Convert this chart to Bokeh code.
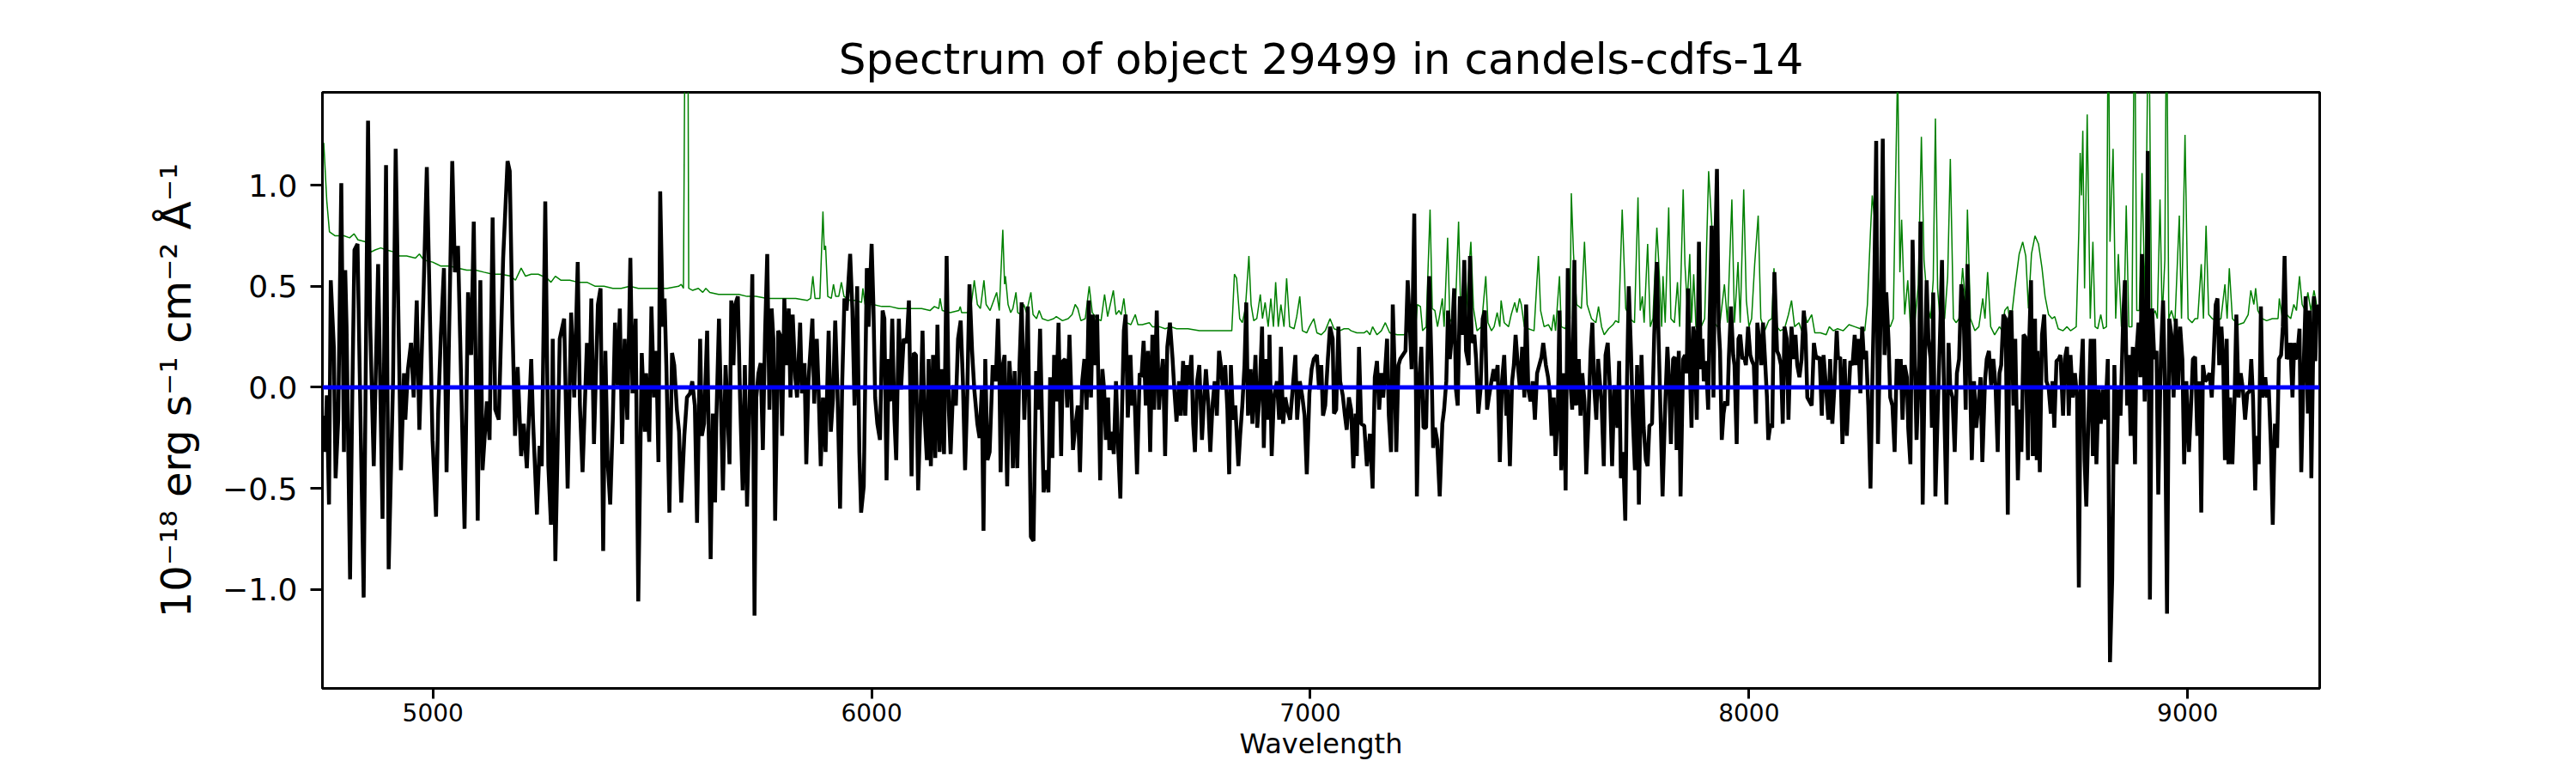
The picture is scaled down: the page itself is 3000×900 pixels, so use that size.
from bokeh.plotting import figure
from bokeh.models import Range1d, FixedTicker, CustomJSTickFormatter, Span, ColumnDataSource
from bokeh.embed import file_html
from bokeh.resources import INLINE

TITLE = "Spectrum of object 29499 in candels-cdfs-14"
X_LABEL = "Wavelength"
Y_LABEL = "10⁻¹⁸ erg s⁻¹ cm⁻² Å⁻¹"
X_TICKS = [5000, 6000, 7000, 8000, 9000]
Y_TICKS = [-1.0, -0.5, 0.0, 0.5, 1.0]
X_LIMITS = (4748, 9301)
Y_LIMITS = (-1.49, 1.46)
ZERO_LEVEL = 0.0

FLUX_4750_5520 = [
    (4750, -0.14), (4754, -0.32), (4758, -0.04), (4763, -0.58), (4767, 0.53), (4774, 0.20), (4778, -0.45),
    (4784, -0.16), (4791, 1.01), (4797, -0.32), (4800, 0.58), (4803, 0.30), (4811, -0.95), (4816, -0.05),
    (4821, 0.68), (4828, 0.71), (4833, 0.07), (4842, -1.04), (4852, 1.32), (4857, 0.30), (4865, -0.39),
    (4875, 0.61), (4885, -0.65), (4893, 1.10), (4899, -0.90), (4909, 0.03), (4915, 1.18), (4921, 0.38),
    (4927, -0.41), (4934, 0.07), (4937, -0.16), (4943, 0.09), (4950, 0.22), (4956, -0.05), (4963, 0.43),
    (4969, -0.21), (4974, 0.14), (4979, 0.51), (4986, 1.09), (4994, 0.26), (4999, -0.26), (5007, -0.64),
    (5012, -0.11), (5018, 0.26), (5025, 0.59), (5031, -0.42), (5037, 0.30), (5044, 1.12), (5050, 0.57),
    (5057, 0.70), (5062, 0.24), (5072, -0.70), (5080, 0.47), (5087, 0.16), (5093, 0.82), (5102, -0.66),
    (5108, 0.53), (5113, -0.41), (5123, -0.07), (5129, -0.26), (5136, 0.84), (5142, -0.11), (5150, -0.16),
    (5160, 0.64), (5170, 1.12), (5175, 1.07), (5181, 0.34), (5187, -0.24), (5193, 0.10), (5201, -0.34),
    (5207, -0.18), (5214, -0.40), (5224, 0.14), (5228, -0.16), (5237, -0.63), (5243, -0.29), (5248, -0.39),
    (5256, 0.92), (5263, -0.39), (5269, -0.68), (5273, 0.24), (5279, -0.86), (5289, 0.24), (5299, 0.34),
    (5307, -0.50), (5315, 0.37), (5322, -0.05), (5330, 0.62), (5335, -0.09), (5341, -0.42), (5351, 0.22),
    (5357, -0.01), (5361, 0.44), (5367, -0.28), (5376, 0.41), (5382, 0.49), (5388, -0.81), (5393, 0.18),
    (5398, -0.36), (5404, -0.58), (5410, -0.16), (5415, 0.32), (5421, 0.01), (5426, 0.39), (5431, -0.28),
    (5437, 0.24), (5443, -0.16), (5450, 0.64), (5455, -0.03), (5462, 0.34), (5468, -1.06), (5476, 0.17),
    (5483, -0.22), (5486, 0.07), (5493, -0.27), (5498, 0.40), (5504, -0.05), (5509, 0.18), (5514, -0.37),
    (5518, 0.97),
]
FLUX_5520_6280 = [
    (5524, 0.30), (5528, 0.44), (5532, 0.11), (5539, -0.62), (5545, 0.17), (5550, 0.11), (5556, -0.11),
    (5561, -0.22), (5566, -0.57), (5573, -0.24), (5579, -0.05), (5586, -0.03), (5591, 0.03), (5597, -0.09),
    (5602, -0.67), (5609, 0.24), (5613, -0.24), (5618, -0.18), (5625, 0.28), (5633, -0.85), (5638, -0.13),
    (5643, -0.57), (5646, -0.16), (5652, 0.34), (5661, -0.51), (5667, 0.11), (5672, -0.14), (5676, -0.38),
    (5680, 0.43), (5685, 0.11), (5689, 0.41), (5695, 0.45), (5700, -0.05), (5706, -0.51), (5711, 0.11),
    (5716, -0.59), (5723, 0.03), (5728, 0.56), (5733, -1.13), (5737, -0.05), (5742, 0.07), (5747, 0.12),
    (5752, -0.31), (5757, 0.26), (5762, 0.66), (5767, -0.11), (5772, 0.39), (5776, 0.24), (5780, -0.66),
    (5787, 0.28), (5791, 0.26), (5796, -0.24), (5801, 0.44), (5805, 0.11), (5811, 0.39), (5815, -0.05),
    (5820, 0.36), (5826, 0.05), (5830, -0.05), (5837, 0.32), (5841, -0.03), (5847, 0.12), (5851, -0.38),
    (5856, 0.03), (5865, 0.34), (5869, -0.08), (5875, 0.24), (5879, -0.01), (5884, -0.39), (5889, -0.05),
    (5895, -0.32), (5902, 0.28), (5907, -0.22), (5912, -0.05), (5917, 0.33), (5922, -0.01), (5928, -0.60),
    (5933, 0.03), (5938, 0.44), (5943, 0.38), (5951, 0.66), (5956, 0.39), (5961, -0.09), (5967, 0.50),
    (5972, -0.32), (5976, -0.62), (5982, -0.49), (5989, 0.59), (5993, 0.30), (6000, 0.71), (6004, 0.41),
    (6008, -0.05), (6013, -0.18), (6019, -0.26), (6025, 0.38), (6029, 0.34), (6034, -0.46), (6039, 0.14),
    (6042, -0.07), (6047, 0.34), (6052, -0.16), (6056, -0.36), (6062, 0.34), (6067, -0.01), (6073, 0.24),
    (6080, 0.22), (6085, 0.43), (6091, -0.44), (6096, 0.17), (6101, 0.16), (6106, -0.51), (6111, -0.14),
    (6116, 0.28), (6120, -0.11), (6126, -0.36), (6130, 0.14), (6135, -0.39), (6140, 0.16), (6145, -0.35),
    (6150, 0.31), (6155, -0.32), (6160, 0.09), (6165, -0.33), (6171, 0.65), (6176, -0.11), (6180, -0.33),
    (6186, 0.01), (6192, -0.09), (6197, 0.24), (6203, 0.33), (6208, 0.03), (6213, -0.41), (6218, -0.03),
    (6223, 0.51), (6229, 0.18), (6234, -0.01), (6241, -0.18), (6246, -0.25), (6251, -0.01), (6255, -0.71),
    (6259, 0.14), (6264, -0.36), (6269, -0.32), (6276, 0.11),
]
FLUX_6280_7050 = [
    (6283, 0.03), (6288, 0.34), (6291, 0.11), (6294, -0.42), (6299, 0.11), (6303, 0.16), (6309, -0.49),
    (6314, 0.13), (6317, 0.03), (6322, -0.40), (6326, 0.08), (6332, -0.40), (6337, 0.11), (6342, 0.42),
    (6348, -0.16), (6352, 0.09), (6356, 0.40), (6363, -0.74), (6369, -0.76), (6375, 0.08), (6379, -0.11),
    (6384, 0.29), (6392, -0.52), (6399, -0.41), (6403, -0.52), (6407, 0.05), (6412, -0.35), (6416, 0.16),
    (6421, -0.07), (6426, 0.32), (6432, -0.34), (6436, 0.13), (6441, 0.14), (6446, -0.10), (6451, 0.26),
    (6459, -0.31), (6464, -0.20), (6470, -0.09), (6475, -0.42), (6480, 0.03), (6485, 0.14), (6490, -0.11),
    (6495, 0.43), (6500, -0.05), (6504, 0.36), (6508, 0.11), (6514, 0.36), (6521, -0.46), (6526, 0.09),
    (6530, -0.01), (6534, -0.26), (6539, -0.05), (6542, -0.31), (6547, -0.22), (6552, -0.33), (6557, 0.03),
    (6562, -0.30), (6567, -0.55), (6571, -0.09), (6575, 0.28), (6579, 0.36), (6584, -0.15), (6590, 0.16),
    (6594, -0.09), (6599, -0.01), (6605, -0.43), (6611, 0.07), (6615, 0.05), (6620, 0.23), (6625, -0.09),
    (6630, 0.18), (6635, -0.32), (6640, 0.26), (6644, -0.11), (6650, 0.38), (6655, -0.11), (6659, 0.03),
    (6664, 0.14), (6669, -0.34), (6674, 0.20), (6680, 0.32), (6686, 0.14), (6690, -0.01), (6695, -0.17),
    (6701, 0.03), (6705, -0.14), (6710, 0.13), (6715, -0.14), (6719, 0.11), (6723, 0.01), (6729, 0.16),
    (6733, -0.18), (6737, -0.32), (6742, 0.03), (6747, 0.11), (6753, -0.26), (6757, -0.09), (6762, 0.09),
    (6767, -0.07), (6772, -0.32), (6777, -0.09), (6782, 0.03), (6787, -0.14), (6792, 0.18), (6796, 0.11),
    (6801, -0.01), (6806, 0.11), (6811, -0.11), (6815, -0.43), (6819, 0.11), (6824, -0.16), (6829, -0.09),
    (6836, -0.39), (6840, -0.24), (6845, -0.09), (6850, 0.11), (6854, 0.42), (6858, -0.14), (6864, 0.09),
    (6868, -0.18), (6875, 0.16), (6879, -0.20), (6884, -0.05), (6890, 0.30), (6894, -0.30), (6899, 0.14),
    (6904, -0.16), (6907, 0.26), (6912, -0.34), (6917, -0.05), (6924, 0.03), (6929, -0.16), (6933, 0.20),
    (6938, -0.18), (6943, -0.05), (6948, -0.11), (6954, -0.16), (6959, -0.03), (6966, 0.16), (6970, -0.16),
    (6976, 0.03), (6982, -0.05), (6987, -0.14), (6992, -0.43), (6998, -0.03), (7003, 0.09), (7008, 0.14),
    (7015, 0.16), (7020, -0.01), (7025, 0.11), (7029, -0.14), (7034, -0.09), (7040, 0.14), (7045, 0.30),
]
FLUX_7050_7810 = [
    (7051, 0.24), (7054, -0.13), (7059, -0.11), (7064, 0.30), (7068, 0.03), (7074, -0.04), (7079, -0.14),
    (7083, -0.21), (7088, -0.05), (7093, -0.11), (7098, -0.40), (7103, -0.13), (7106, -0.34), (7111, 0.20),
    (7116, -0.18), (7123, -0.19), (7129, -0.39), (7136, -0.23), (7142, -0.50), (7147, 0.05), (7152, 0.13),
    (7157, -0.11), (7162, 0.07), (7166, -0.05), (7170, 0.06), (7175, 0.24), (7179, -0.14), (7184, -0.32),
    (7188, 0.41), (7192, 0.11), (7196, -0.32), (7201, 0.11), (7205, 0.14), (7211, 0.16), (7217, 0.18),
    (7222, 0.53), (7227, 0.30), (7231, 0.09), (7237, 0.86), (7243, -0.54), (7248, 0.03), (7253, 0.20),
    (7258, -0.20), (7264, -0.20), (7271, 0.55), (7276, 0.14), (7280, -0.30), (7284, -0.20), (7289, -0.26),
    (7295, -0.54), (7301, -0.18), (7305, -0.11), (7310, 0.03), (7314, 0.38), (7318, 0.14), (7323, 0.26),
    (7328, 0.49), (7332, -0.01), (7336, -0.09), (7341, 0.45), (7346, 0.26), (7351, 0.63), (7355, 0.18),
    (7361, 0.11), (7364, 0.65), (7368, 0.22), (7374, 0.26), (7378, 0.14), (7383, -0.13), (7388, -0.01),
    (7393, 0.34), (7398, 0.38), (7403, -0.11), (7407, -0.05), (7413, 0.03), (7418, 0.09), (7422, 0.03),
    (7427, 0.11), (7432, -0.37), (7437, 0.03), (7442, 0.16), (7447, -0.14), (7450, -0.01), (7455, -0.39),
    (7460, 0.03), (7464, 0.11), (7468, 0.26), (7473, 0.11), (7478, -0.01), (7483, 0.20), (7488, -0.05),
    (7492, 0.41), (7497, -0.01), (7502, -0.07), (7507, 0.03), (7512, -0.16), (7517, 0.07), (7522, 0.11),
    (7527, 0.15), (7531, 0.22), (7537, 0.11), (7542, 0.05), (7546, -0.03), (7550, -0.24), (7555, -0.05),
    (7559, -0.34), (7564, -0.14), (7568, 0.38), (7572, -0.41), (7578, 0.07), (7582, -0.51), (7587, 0.59),
    (7592, 0.05), (7597, -0.11), (7602, 0.63), (7606, -0.09), (7612, 0.14), (7616, -0.14), (7620, 0.07),
    (7625, -0.07), (7629, -0.43), (7634, -0.16), (7639, 0.18), (7643, 0.32), (7647, 0.01), (7652, -0.16),
    (7656, 0.14), (7660, 0.03), (7664, -0.08), (7669, -0.39), (7673, 0.16), (7678, 0.22), (7683, -0.01),
    (7688, -0.39), (7693, 0.01), (7700, -0.20), (7704, 0.13), (7708, -0.45), (7713, -0.32), (7718, -0.66),
    (7722, 0.03), (7726, 0.50), (7731, 0.18), (7735, -0.14), (7740, -0.41), (7745, 0.11), (7749, -0.58),
    (7755, 0.16), (7760, -0.20), (7765, -0.36), (7769, -0.39), (7773, -0.19), (7779, -0.18), (7784, 0.26),
    (7790, 0.62), (7794, 0.24), (7799, -0.18), (7803, -0.54),
]
FLUX_7810_8575 = [
    (7809, -0.09), (7814, 0.20), (7818, 0.03), (7822, -0.28), (7827, 0.14), (7831, 0.15), (7835, -0.31),
    (7840, 0.18), (7844, -0.54), (7850, 0.14), (7854, 0.16), (7858, 0.07), (7861, 0.49), (7865, 0.11),
    (7869, -0.20), (7873, 0.30), (7876, 0.26), (7881, -0.16), (7886, 0.72), (7890, 0.09), (7894, 0.24),
    (7897, 0.03), (7902, 0.13), (7907, -0.11), (7910, 0.30), (7915, 0.80), (7919, -0.05), (7923, 0.68),
    (7927, 1.08), (7931, 0.30), (7934, 0.18), (7938, -0.26), (7942, -0.13), (7946, -0.07), (7951, -0.09),
    (7954, 0.14), (7959, 0.40), (7964, 0.16), (7967, 0.11), (7972, -0.28), (7976, 0.24), (7980, 0.26),
    (7985, 0.14), (7989, 0.15), (7993, 0.11), (7998, 0.30), (8003, 0.16), (8007, 0.13), (8011, 0.11),
    (8016, -0.18), (8019, 0.32), (8024, 0.22), (8028, 0.11), (8032, 0.32), (8036, 0.16), (8041, -0.05),
    (8044, -0.26), (8049, -0.18), (8053, -0.20), (8058, 0.57), (8064, 0.18), (8068, 0.16), (8073, 0.11),
    (8077, -0.18), (8081, 0.30), (8086, 0.24), (8090, -0.16), (8094, 0.14), (8097, 0.30), (8102, 0.14),
    (8106, 0.26), (8110, 0.11), (8115, 0.05), (8120, 0.14), (8125, 0.38), (8129, 0.26), (8133, -0.05),
    (8138, -0.07), (8143, -0.09), (8148, 0.22), (8152, 0.16), (8156, 0.14), (8161, 0.15), (8166, -0.14),
    (8170, 0.16), (8176, -0.01), (8181, -0.16), (8185, 0.14), (8190, -0.18), (8195, 0.01), (8200, 0.28),
    (8203, 0.14), (8208, 0.15), (8213, -0.28), (8218, 0.14), (8223, -0.24), (8227, -0.05), (8231, 0.13),
    (8236, 0.11), (8241, 0.26), (8245, 0.11), (8249, 0.24), (8254, -0.03), (8258, 0.30), (8262, 0.14),
    (8267, 0.18), (8272, -0.09), (8277, -0.50), (8281, 0.01), (8285, 0.41), (8290, 1.22), (8294, -0.28),
    (8300, 0.34), (8305, 1.23), (8309, 0.16), (8313, 0.47), (8318, 0.24), (8322, -0.05), (8327, -0.09),
    (8332, -0.32), (8337, 0.14), (8342, -0.01), (8346, 0.14), (8350, -0.16), (8355, 0.11), (8360, 0.05),
    (8363, -0.20), (8368, -0.38), (8373, 0.73), (8378, 0.14), (8382, -0.26), (8388, 0.11), (8391, 0.82),
    (8396, -0.58), (8401, 0.14), (8405, 0.53), (8409, 0.24), (8414, 0.14), (8417, -0.20), (8420, 0.47),
    (8425, -0.54), (8430, -0.14), (8435, 0.22), (8440, 0.63), (8445, -0.09), (8450, -0.58), (8455, 0.22),
    (8459, -0.01), (8464, -0.05), (8469, -0.32), (8474, 0.07), (8479, 0.14), (8484, 0.51), (8489, 0.41),
    (8494, -0.11), (8498, 0.61), (8503, 0.14), (8508, -0.36), (8513, 0.03), (8518, -0.20), (8523, -0.09),
    (8528, 0.05), (8532, -0.37), (8538, 0.03), (8542, 0.14), (8547, 0.18), (8552, 0.01), (8557, 0.14),
    (8562, 0.01), (8567, -0.32), (8571, 0.07),
]
FLUX_8575_9300 = [
    (8575, 0.11), (8580, 0.36), (8585, 0.34), (8590, -0.63), (8594, 0.34), (8598, 0.38), (8603, -0.09),
    (8607, 0.24), (8613, -0.46), (8617, -0.11), (8621, -0.32), (8626, 0.26), (8630, 0.25), (8636, -0.36),
    (8639, 0.24), (8643, 0.53), (8647, -0.34), (8652, 0.34), (8656, -0.36), (8658, 0.18), (8663, -0.42),
    (8668, 0.26), (8673, 0.36), (8678, 0.03), (8683, 0.00), (8688, -0.13), (8692, 0.03), (8696, -0.20),
    (8701, 0.13), (8706, 0.14), (8710, 0.16), (8716, -0.14), (8720, 0.14), (8725, 0.20), (8729, -0.14),
    (8733, 0.16), (8738, -0.05), (8743, 0.07), (8748, -0.05), (8752, -0.99), (8756, 0.03), (8761, 0.24),
    (8765, -0.36), (8769, -0.59), (8774, -0.14), (8779, 0.24), (8784, -0.34), (8787, 0.24), (8792, -0.38),
    (8797, -0.01), (8802, -0.18), (8807, -0.01), (8812, -0.16), (8818, 0.14), (8823, -1.36), (8828, -0.95),
    (8833, 0.11), (8838, -0.38), (8842, -0.01), (8847, -0.14), (8853, 0.34), (8857, 0.53), (8862, -0.09),
    (8866, 0.16), (8870, -0.24), (8875, 0.20), (8880, -0.38), (8883, 0.16), (8888, 0.32), (8892, 0.05),
    (8896, 0.66), (8902, -0.07), (8906, 0.20), (8909, 1.17), (8914, -1.05), (8919, 0.39), (8924, 0.14),
    (8929, 0.18), (8933, -0.53), (8939, 0.16), (8944, 0.43), (8948, 0.03), (8953, -1.12), (8958, 0.34),
    (8963, 0.26), (8968, -0.05), (8973, 0.34), (8978, -0.01), (8983, 0.30), (8988, 0.14), (8992, -0.38),
    (8997, 0.03), (9003, -0.32), (9007, -0.13), (9012, 0.14), (9017, 0.15), (9022, -0.24), (9027, 0.03),
    (9031, -0.62), (9035, 0.11), (9040, 0.03), (9044, 0.04), (9050, 0.07), (9055, -0.05), (9059, 0.14),
    (9064, 0.41), (9068, 0.44), (9072, 0.11), (9077, 0.30), (9081, 0.14), (9085, -0.36), (9089, 0.24),
    (9093, -0.38), (9097, -0.05), (9102, -0.38), (9107, -0.05), (9111, 0.36), (9116, -0.05), (9121, 0.07),
    (9126, -0.01), (9131, -0.16), (9136, -0.03), (9141, -0.02), (9145, 0.14), (9149, -0.05), (9154, -0.51),
    (9157, -0.24), (9162, -0.38), (9167, 0.40), (9171, -0.05), (9177, 0.05), (9181, -0.05), (9185, -0.01),
    (9190, -0.30), (9194, -0.68), (9199, -0.18), (9204, -0.30), (9208, 0.14), (9213, 0.16), (9217, 0.30),
    (9221, 0.65), (9226, 0.14), (9230, 0.16), (9234, 0.22), (9239, -0.05), (9243, 0.22), (9246, 0.14),
    (9250, 0.16), (9255, 0.29), (9259, -0.42), (9265, 0.14), (9269, 0.45), (9274, -0.13), (9278, 0.38),
    (9282, -0.45), (9288, 0.45), (9291, 0.13), (9295, 0.41),
]

# noise / sky spectrum (green)
NOISE_4750_5520 = [
    (4751, 1.21), (4758, 0.92), (4764, 0.77), (4777, 0.75), (4797, 0.75), (4810, 0.74), (4820, 0.76),
    (4829, 0.73), (4846, 0.72), (4859, 0.67), (4868, 0.68), (4881, 0.69), (4894, 0.68), (4911, 0.67),
    (4924, 0.65), (4940, 0.65), (4960, 0.64), (4969, 0.66), (4979, 0.63), (4999, 0.62), (5018, 0.60),
    (5038, 0.60), (5057, 0.59), (5077, 0.58), (5097, 0.58), (5116, 0.57), (5136, 0.56), (5155, 0.56),
    (5178, 0.55), (5188, 0.53), (5201, 0.59), (5211, 0.55), (5224, 0.56), (5240, 0.56), (5260, 0.54),
    (5269, 0.52), (5279, 0.55), (5292, 0.53), (5312, 0.53), (5331, 0.52), (5351, 0.52), (5370, 0.50),
    (5390, 0.50), (5410, 0.49), (5429, 0.49), (5449, 0.50), (5468, 0.49), (5488, 0.49), (5514, 0.49),
]
NOISE_5520_6280 = [
    (5534, 0.49), (5560, 0.50), (5566, 0.51), (5571, 0.49), (5575, 2.00), (5581, 2.00), (5583, 0.49),
    (5592, 0.48), (5605, 0.49), (5615, 0.47), (5622, 0.49), (5631, 0.47), (5651, 0.46), (5671, 0.46),
    (5697, 0.46), (5716, 0.45), (5736, 0.45), (5762, 0.44), (5781, 0.44), (5807, 0.44), (5827, 0.44),
    (5853, 0.43), (5861, 0.44), (5866, 0.55), (5871, 0.44), (5882, 0.44), (5889, 0.87), (5892, 0.68),
    (5895, 0.70), (5900, 0.45), (5908, 0.44), (5913, 0.51), (5918, 0.45), (5925, 0.45), (5931, 0.52),
    (5937, 0.45), (5951, 0.43), (5964, 0.43), (5977, 0.42), (5980, 0.49), (5985, 0.41), (6003, 0.41),
    (6023, 0.40), (6042, 0.40), (6062, 0.39), (6088, 0.39), (6114, 0.39), (6133, 0.38), (6143, 0.40),
    (6153, 0.39), (6156, 0.44), (6161, 0.38), (6179, 0.37), (6199, 0.38), (6202, 0.40), (6205, 0.37),
    (6218, 0.37), (6226, 0.39), (6234, 0.53), (6241, 0.41), (6248, 0.39), (6256, 0.53), (6261, 0.41),
    (6270, 0.38),
]
NOISE_6280_7050 = [
    (6285, 0.47), (6291, 0.38), (6299, 0.78), (6303, 0.51), (6305, 0.55), (6311, 0.41), (6317, 0.37),
    (6322, 0.39), (6329, 0.47), (6333, 0.37), (6340, 0.36), (6347, 0.41), (6353, 0.37), (6363, 0.47),
    (6368, 0.36), (6376, 0.34), (6382, 0.38), (6389, 0.34), (6402, 0.33), (6415, 0.34), (6421, 0.35),
    (6435, 0.33), (6448, 0.34), (6457, 0.36), (6464, 0.41), (6470, 0.39), (6477, 0.33), (6487, 0.34),
    (6496, 0.50), (6503, 0.37), (6513, 0.34), (6523, 0.33), (6531, 0.46), (6538, 0.35), (6544, 0.41),
    (6551, 0.48), (6557, 0.36), (6564, 0.38), (6569, 0.36), (6575, 0.44), (6581, 0.32), (6591, 0.31),
    (6601, 0.36), (6607, 0.31), (6617, 0.31), (6633, 0.32), (6640, 0.30), (6656, 0.30), (6669, 0.29),
    (6682, 0.30), (6695, 0.29), (6721, 0.29), (6747, 0.28), (6774, 0.28), (6800, 0.28), (6821, 0.28),
    (6827, 0.56), (6832, 0.54), (6839, 0.34), (6845, 0.32), (6852, 0.39), (6860, 0.65), (6865, 0.41),
    (6871, 0.33), (6878, 0.34), (6886, 0.46), (6891, 0.34), (6897, 0.42), (6904, 0.30), (6910, 0.44),
    (6916, 0.30), (6921, 0.52), (6927, 0.30), (6933, 0.41), (6940, 0.30), (6946, 0.54), (6953, 0.30),
    (6963, 0.29), (6969, 0.35), (6976, 0.45), (6982, 0.28), (6992, 0.27), (6998, 0.30), (7008, 0.34),
    (7015, 0.27), (7025, 0.26), (7034, 0.28), (7045, 0.34),
]
NOISE_7050_7810 = [
    (7054, 0.29), (7067, 0.28), (7077, 0.29), (7087, 0.29), (7093, 0.28), (7106, 0.27), (7123, 0.27),
    (7129, 0.28), (7136, 0.26), (7142, 0.30), (7152, 0.26), (7162, 0.28), (7171, 0.32), (7181, 0.27),
    (7198, 0.26), (7214, 0.26), (7224, 0.28), (7240, 0.29), (7244, 0.41), (7251, 0.40), (7256, 0.28),
    (7264, 0.30), (7273, 0.88), (7278, 0.39), (7284, 0.38), (7290, 0.30), (7295, 0.36), (7301, 0.44),
    (7305, 0.30), (7313, 0.74), (7318, 0.34), (7325, 0.31), (7330, 0.34), (7338, 0.82), (7343, 0.36),
    (7347, 0.49), (7354, 0.32), (7361, 0.57), (7366, 0.72), (7372, 0.39), (7380, 0.28), (7390, 0.30),
    (7400, 0.55), (7405, 0.32), (7413, 0.28), (7419, 0.30), (7426, 0.37), (7432, 0.30), (7435, 0.43),
    (7442, 0.32), (7452, 0.30), (7458, 0.36), (7466, 0.42), (7471, 0.37), (7477, 0.44), (7481, 0.41),
    (7488, 0.30), (7497, 0.29), (7510, 0.28), (7520, 0.65), (7525, 0.38), (7533, 0.30), (7543, 0.31),
    (7550, 0.28), (7555, 0.36), (7559, 0.28), (7568, 0.55), (7572, 0.30), (7582, 0.29), (7587, 0.44),
    (7592, 0.34), (7595, 0.96), (7600, 0.66), (7607, 0.41), (7618, 0.39), (7625, 0.72), (7631, 0.41),
    (7641, 0.34), (7651, 0.32), (7657, 0.40), (7664, 0.30), (7670, 0.26), (7680, 0.29), (7690, 0.31),
    (7696, 0.33), (7703, 0.32), (7711, 0.88), (7719, 0.39), (7729, 0.34), (7739, 0.32), (7747, 0.94),
    (7752, 0.38), (7757, 0.45), (7761, 0.32), (7769, 0.71), (7775, 0.30), (7781, 0.34), (7790, 0.79),
    (7794, 0.63), (7801, 0.30),
]
NOISE_7810_8575 = [
    (7804, 0.55), (7809, 0.32), (7817, 0.89), (7822, 0.34), (7830, 0.32), (7837, 0.52), (7842, 0.30),
    (7850, 0.98), (7854, 0.61), (7859, 0.41), (7865, 0.66), (7869, 0.32), (7874, 0.56), (7879, 0.30),
    (7889, 0.29), (7899, 0.34), (7908, 1.07), (7915, 0.81), (7921, 0.32), (7928, 0.30), (7934, 0.32),
    (7944, 0.51), (7951, 0.32), (7961, 0.93), (7967, 0.32), (7975, 0.62), (7980, 0.32), (7988, 0.98),
    (7994, 0.43), (8000, 0.30), (8006, 0.34), (8013, 0.61), (8021, 0.85), (8027, 0.34), (8036, 0.28),
    (8045, 0.33), (8052, 0.34), (8057, 0.59), (8064, 0.30), (8071, 0.28), (8081, 0.29), (8090, 0.36),
    (8097, 0.43), (8104, 0.30), (8114, 0.32), (8120, 0.28), (8127, 0.36), (8133, 0.32), (8143, 0.36),
    (8150, 0.27), (8163, 0.27), (8176, 0.26), (8183, 0.30), (8192, 0.28), (8202, 0.29), (8215, 0.28),
    (8228, 0.31), (8241, 0.30), (8254, 0.29), (8264, 0.28), (8270, 0.41), (8277, 0.77), (8281, 0.95),
    (8286, 0.84), (8293, 0.57), (8303, 0.38), (8313, 0.32), (8322, 0.30), (8329, 0.34), (8333, 0.88),
    (8339, 1.60), (8344, 0.57), (8348, 0.83), (8355, 0.36), (8362, 0.53), (8368, 0.30), (8378, 0.32),
    (8386, 0.51), (8393, 1.24), (8399, 0.63), (8407, 0.41), (8414, 0.34), (8420, 0.53), (8425, 1.33),
    (8430, 0.49), (8436, 0.32), (8446, 0.34), (8453, 0.55), (8459, 1.13), (8466, 0.34), (8472, 0.32),
    (8479, 0.34), (8487, 0.59), (8494, 0.41), (8498, 0.88), (8505, 0.34), (8515, 0.28), (8524, 0.30),
    (8533, 0.44), (8538, 0.34), (8544, 0.57), (8551, 0.30), (8560, 0.26), (8571, 0.30),
]
NOISE_8575_9300 = [
    (8577, 0.28), (8583, 0.38), (8590, 0.40), (8596, 0.30), (8606, 0.49), (8616, 0.66), (8624, 0.72),
    (8631, 0.65), (8637, 0.39), (8644, 0.66), (8652, 0.75), (8660, 0.71), (8668, 0.59), (8675, 0.45),
    (8683, 0.36), (8691, 0.34), (8697, 0.35), (8705, 0.29), (8716, 0.28), (8725, 0.30), (8733, 0.28),
    (8740, 0.29), (8746, 0.30), (8752, 0.78), (8755, 1.16), (8758, 0.95), (8761, 1.27), (8765, 0.49),
    (8771, 1.35), (8778, 0.34), (8784, 0.72), (8789, 0.30), (8795, 0.29), (8802, 0.36), (8808, 0.29),
    (8815, 0.30), (8819, 2.00), (8823, 0.72), (8830, 1.18), (8836, 0.34), (8842, 0.66), (8849, 0.30),
    (8855, 0.34), (8860, 0.90), (8866, 0.30), (8873, 0.30), (8879, 2.00), (8884, 0.38), (8890, 0.38),
    (8896, 1.06), (8903, 0.41), (8911, 2.00), (8918, 0.34), (8926, 0.38), (8931, 0.34), (8937, 0.93),
    (8942, 0.34), (8948, 0.63), (8952, 2.00), (8957, 0.34), (8963, 0.38), (8971, 0.32), (8981, 0.85),
    (8986, 0.34), (8994, 1.25), (9001, 0.34), (9010, 0.32), (9017, 0.34), (9023, 0.34), (9031, 0.61),
    (9036, 0.34), (9042, 0.80), (9048, 0.36), (9056, 0.34), (9066, 0.33), (9076, 0.34), (9085, 0.51),
    (9090, 0.34), (9095, 0.59), (9102, 0.34), (9115, 0.31), (9128, 0.32), (9138, 0.36), (9144, 0.48),
    (9151, 0.41), (9155, 0.49), (9160, 0.38), (9170, 0.34), (9180, 0.33), (9193, 0.34), (9206, 0.34),
    (9209, 0.44), (9216, 0.34), (9226, 0.36), (9235, 0.34), (9242, 0.41), (9248, 0.38), (9255, 0.55),
    (9261, 0.41), (9268, 0.38), (9274, 0.47), (9281, 0.38), (9288, 0.48), (9294, 0.41),
]

flux_pairs = (FLUX_4750_5520 + FLUX_5520_6280 + FLUX_6280_7050 + FLUX_7050_7810
              + FLUX_7810_8575 + FLUX_8575_9300)
noise_pairs = (NOISE_4750_5520 + NOISE_5520_6280 + NOISE_6280_7050 + NOISE_7050_7810
               + NOISE_7810_8575 + NOISE_8575_9300)

flux_src = ColumnDataSource(dict(wl=[a for a, b in flux_pairs], f=[b for a, b in flux_pairs]))
noise_src = ColumnDataSource(dict(wl=[a for a, b in noise_pairs], f=[b for a, b in noise_pairs]))

FONT = "DejaVu Sans"

p = figure(width=2992, height=892, output_backend="svg", toolbar_location=None,
           x_range=Range1d(*X_LIMITS), y_range=Range1d(*Y_LIMITS),
           min_border_left=375, min_border_right=291, min_border_top=107, min_border_bottom=91,
           title=TITLE)
p.background_fill_color = "white"
p.border_fill_color = "white"
p.outline_line_color = "black"
p.outline_line_width = 3
p.xgrid.visible = False
p.ygrid.visible = False

p.title.text_font = FONT
p.title.text_font_size = "50px"
p.title.text_font_style = "normal"
p.title.align = "center"
p.title.text_color = "black"
p.title.standoff = 20

p.line("wl", "f", source=noise_src, line_color="#008000", line_width=1.5)
p.line("wl", "f", source=flux_src, line_color="black", line_width=4.5)
p.add_layout(Span(location=ZERO_LEVEL, dimension="width", line_color="#0000ff", line_width=5))

for ax in (p.xaxis[0], p.yaxis[0]):
    ax.axis_line_color = "black"
    ax.axis_line_width = 3
    ax.major_tick_line_color = "black"
    ax.major_tick_line_width = 3
    ax.major_tick_in = 0
    ax.minor_tick_line_color = None
    ax.major_label_text_font = FONT
    ax.major_label_text_color = "black"
    ax.axis_label_text_font = FONT
    ax.axis_label_text_font_style = "normal"
    ax.axis_label_text_color = "black"

p.xaxis.ticker = FixedTicker(ticks=X_TICKS)
p.xaxis.major_tick_out = 12
p.xaxis.major_label_text_font_size = "28px"
p.xaxis.major_label_standoff = 5
p.xaxis.axis_label = X_LABEL
p.xaxis.axis_label_text_font_size = "32px"
p.xaxis.axis_label_standoff = 4

p.yaxis.ticker = FixedTicker(ticks=Y_TICKS)
p.yaxis.formatter = CustomJSTickFormatter(code="return tick.toFixed(1).replace('-', '\u2212');")
p.yaxis.major_tick_out = 14
p.yaxis.major_label_text_font_size = "36px"
p.yaxis.major_label_standoff = 15
p.yaxis.axis_label = Y_LABEL
p.yaxis.axis_label_text_font_size = "48px"
p.yaxis.axis_label_standoff = 23

open("out.html", "w").write(file_html(p, INLINE))
